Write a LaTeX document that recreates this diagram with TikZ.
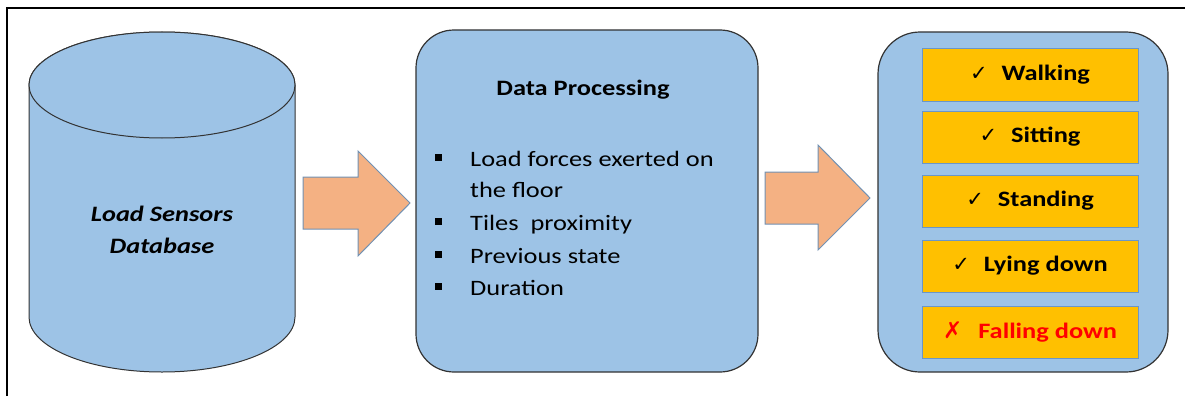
\documentclass[tikz,border=0pt]{standalone}
\usepackage{fontspec}
\setmainfont{Carlito}[FakeStretch=1.2]
\newfontfamily\symfont{DejaVu Sans}
\definecolor{boxblue}{HTML}{9DC3E6}
\definecolor{arroworange}{HTML}{F4B183}
\definecolor{arrowedge}{HTML}{7191B3}
\definecolor{gold}{HTML}{FFC000}
\definecolor{goldedge}{HTML}{6A96C8}
\definecolor{edgegray}{HTML}{333333}
\tikzset{
  frame/.style={line width=2.5pt, black},
  cyl/.style={fill=boxblue, draw=edgegray, line width=1pt},
  panel/.style={draw=edgegray, fill=boxblue, line width=1.2pt, inner sep=0pt},
  blockarrow/.style={fill=arroworange, draw=arrowedge, line width=1pt, line join=miter},
  item/.style={draw=goldedge, fill=gold, line width=1pt, minimum width=216pt, minimum height=52pt, inner sep=0pt, font=\fontsize{22}{26}\selectfont\bfseries},
  bodytext/.style={anchor=base west, inner sep=0pt, font=\fontsize{22}{26}\selectfont},
  bulletsq/.style={fill=black, minimum width=7pt, minimum height=7pt, inner sep=0pt},
}
\newcommand{\chk}{{\symfont\fontsize{21}{24}\selectfont ✓}\hspace{14pt}}
\newcommand{\crs}{{\symfont\fontsize{23}{24}\selectfont\bfseries ✗}\hspace{16pt}}
\begin{document}
\begin{tikzpicture}[x=1pt,y=-1pt]
\useasboundingbox (0,0) rectangle (1185,396);
% frame
\draw[frame] (7,396) -- (7,8) -- (1185,8);
% cylinder
\path[cyl] (29,85) -- (29,317) arc[start angle=180, end angle=0, x radius=133, y radius=55]
  -- (295,85) arc[start angle=0, end angle=-180, x radius=133, y radius=53] -- cycle;
\draw[cyl] (162,85) ellipse[x radius=133, y radius=53];
\node[align=center, inner sep=0pt, font=\fontsize{22}{32}\selectfont\bfseries\itshape] (db) at (162,230) {Load Sensors\\Database};
% arrow 1
\draw[blockarrow] (303,177) -- (358,177) -- (358,151) -- (410,203) -- (358,256) -- (358,229) -- (303,229) -- cycle;
% processing panel
\node[panel, rounded corners=38pt, minimum width=342pt, minimum height=342pt] (proc) at (587,201) {};
\node[anchor=base, inner sep=0pt, font=\fontsize{22}{26}\selectfont\bfseries] (ptitle) at (583,95) {Data Processing};
\node[bodytext] (l1) at (470,166) {Load forces exerted on};
\node[bodytext] (l2) at (470,197) {the floor};
\node[bodytext] (l3) at (470,230) {Tiles\ \ proximity};
\node[bodytext] (l4) at (470,263) {Previous state};
\node[bodytext] (l5) at (470,295) {Duration};
\node[bulletsq] (b1) at (438,157) {};
\node[bulletsq] (b3) at (438,221) {};
\node[bulletsq] (b4) at (438,254) {};
\node[bulletsq] (b5) at (438,286) {};
% arrow 2
\draw[blockarrow] (765,172) -- (818,172) -- (818,145) -- (870,198) -- (818,250) -- (818,224) -- (765,224) -- cycle;
% states panel
\node[panel, rounded corners=42pt, minimum width=290pt, minimum height=340pt] (states) at (1023,202) {};
\node[item] (walk) at (1030,75) {\chk Walking};
\node[item] (sit) at (1030,137) {\chk Sitting};
\node[item] (stand) at (1030,201) {\chk Standing};
\node[item] (lie) at (1030,266) {\chk Lying down};
\node[item, text=red] (fall) at (1030,332) {\crs Falling down};
\end{tikzpicture}
\end{document}
